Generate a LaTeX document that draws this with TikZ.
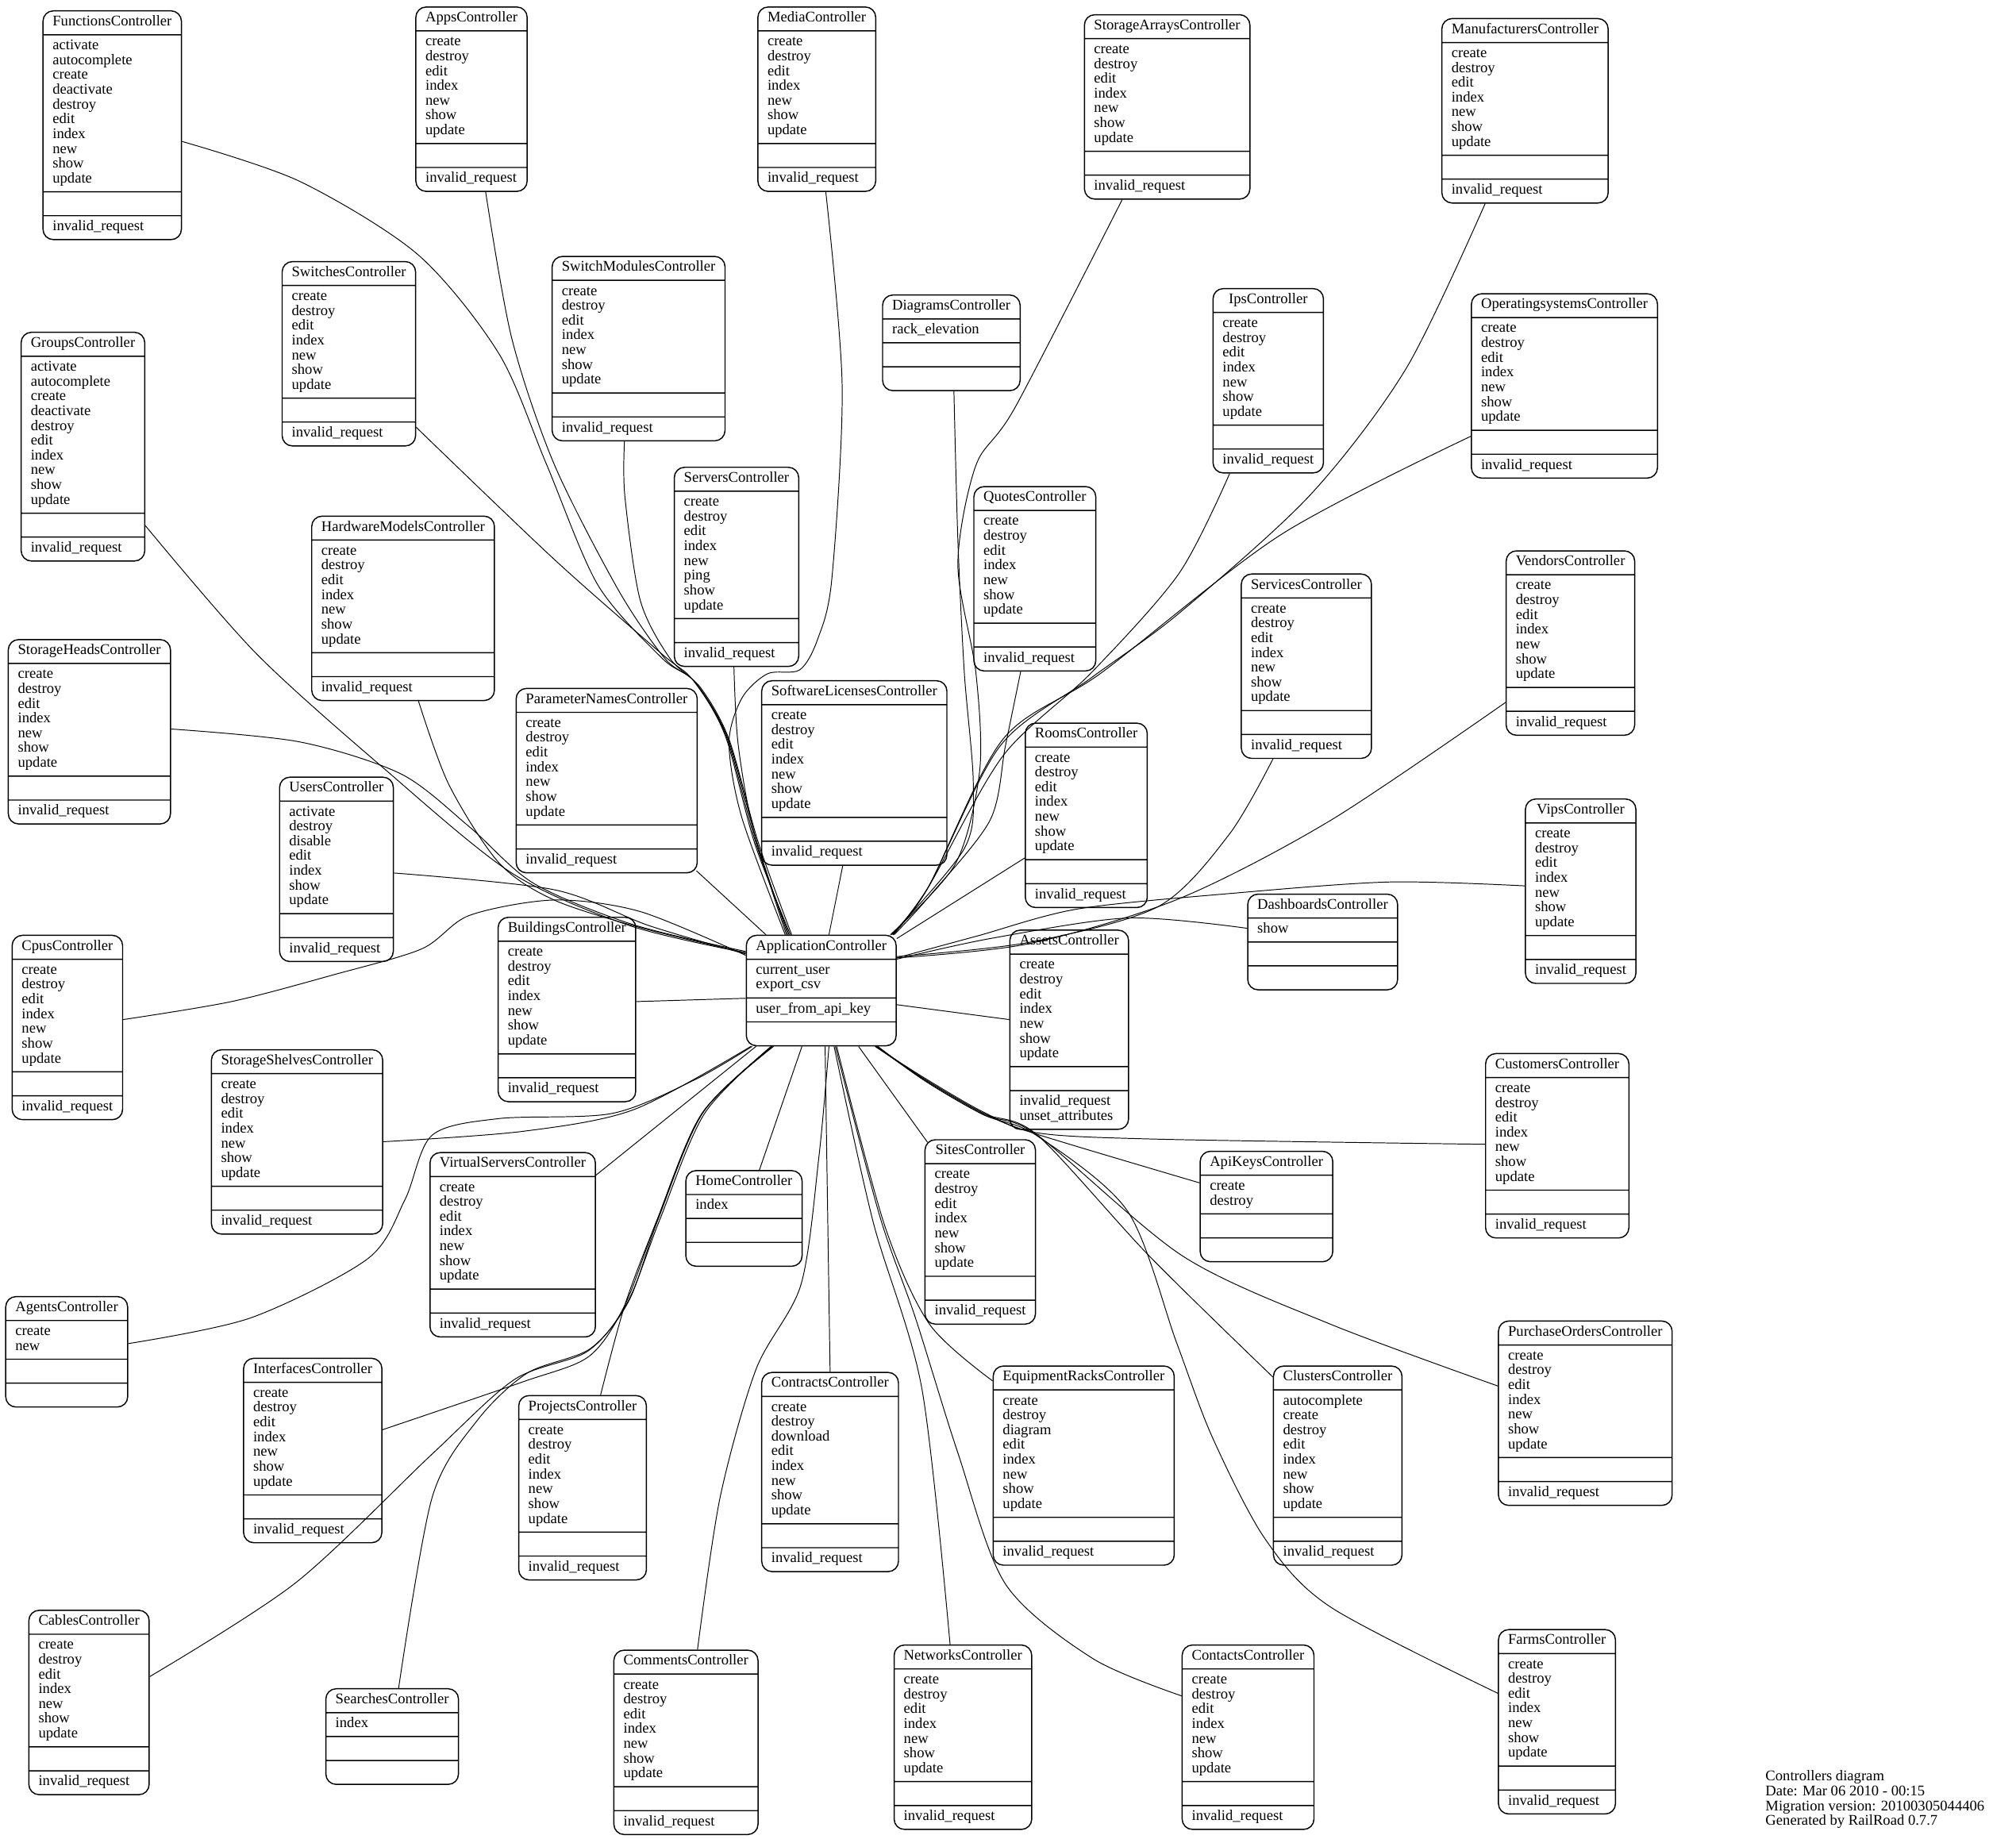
\documentclass[tikz,border=0pt]{standalone}
\usepackage{fontspec}
\setmainfont{Liberation Serif}
\usetikzlibrary{shapes.multipart}
\newcommand{\mlist}[1]{\begin{tabular}{@{}l@{}}#1\end{tabular}}
\newcommand{\crud}{\mlist{create\\destroy\\edit\\index\\new\\show\\update}}
\newcommand{\invreq}{\strut invalid\_request}
\tikzstyle{ctrl} = [rectangle split, rectangle split parts=4, draw, rounded corners=8pt, anchor=north west, inner xsep=7.5pt, inner ysep=3.1pt, rectangle split part align={center,left,left,left}, font=\fontsize{11.5}{11.5}\selectfont, line width=0.9pt]
\tikzstyle{line} = [draw, line width=0.6pt]
\begin{document}
\begin{tikzpicture}[x=1pt, y=-1pt]
    \useasboundingbox (0,0) rectangle (1568,1430);
    % controllers
    \node[ctrl] (func) at (33,8) {\strut FunctionsController \nodepart{two} \mlist{activate\\autocomplete\\create\\deactivate\\destroy\\edit\\index\\new\\show\\update} \nodepart{three} \strut \nodepart{four} \invreq};
    \node[ctrl] (apps) at (323,5) {\strut AppsController \nodepart{two} \crud \nodepart{three} \strut \nodepart{four} \invreq};
    \node[ctrl] (media) at (589,5) {\strut MediaController \nodepart{two} \crud \nodepart{three} \strut \nodepart{four} \invreq};
    \node[ctrl] (starr) at (843,11) {\strut StorageArraysController \nodepart{two} \crud \nodepart{three} \strut \nodepart{four} \invreq};
    \node[ctrl] (manuf) at (1121,14) {\strut ManufacturersController \nodepart{two} \crud \nodepart{three} \strut \nodepart{four} \invreq};
    \node[ctrl] (switches) at (219,203) {\strut SwitchesController \nodepart{two} \crud \nodepart{three} \strut \nodepart{four} \invreq};
    \node[ctrl] (swmod) at (429,199) {\strut SwitchModulesController \nodepart{two} \crud \nodepart{three} \strut \nodepart{four} \invreq};
    \node[ctrl] (diagrams) at (686,229) {\strut DiagramsController \nodepart{two} \strut rack\_elevation \nodepart{three} \strut \nodepart{four} \strut};
    \node[ctrl] (ips) at (943,224) {\strut IpsController \nodepart{two} \crud \nodepart{three} \strut \nodepart{four} \invreq};
    \node[ctrl] (opsys) at (1144,228) {\strut OperatingsystemsController \nodepart{two} \crud \nodepart{three} \strut \nodepart{four} \invreq};
    \node[ctrl] (groups) at (16,258) {\strut GroupsController \nodepart{two} \mlist{activate\\autocomplete\\create\\deactivate\\destroy\\edit\\index\\new\\show\\update} \nodepart{three} \strut \nodepart{four} \invreq};
    \node[ctrl] (servers) at (524,363) {\strut ServersController \nodepart{two} \mlist{create\\destroy\\edit\\index\\new\\ping\\show\\update} \nodepart{three} \strut \nodepart{four} \invreq};
    \node[ctrl] (quotes) at (757,378) {\strut QuotesController \nodepart{two} \crud \nodepart{three} \strut \nodepart{four} \invreq};
    \node[ctrl] (hwmod) at (242,401) {\strut HardwareModelsController \nodepart{two} \crud \nodepart{three} \strut \nodepart{four} \invreq};
    \node[ctrl] (services) at (965,446) {\strut ServicesController \nodepart{two} \crud \nodepart{three} \strut \nodepart{four} \invreq};
    \node[ctrl] (vendors) at (1171,428) {\strut VendorsController \nodepart{two} \crud \nodepart{three} \strut \nodepart{four} \invreq};
    \node[ctrl] (sthead) at (6,497) {\strut StorageHeadsController \nodepart{two} \crud \nodepart{three} \strut \nodepart{four} \invreq};
    \node[ctrl] (params) at (401,535) {\strut ParameterNamesController \nodepart{two} \crud \nodepart{three} \strut \nodepart{four} \invreq};
    \node[ctrl] (swlic) at (592,529) {\strut SoftwareLicensesController \nodepart{two} \crud \nodepart{three} \strut \nodepart{four} \invreq};
    \node[ctrl] (rooms) at (797,562) {\strut RoomsController \nodepart{two} \crud \nodepart{three} \strut \nodepart{four} \invreq};
    \node[ctrl] (users) at (217,604) {\strut UsersController \nodepart{two} \mlist{activate\\destroy\\disable\\edit\\index\\show\\update} \nodepart{three} \strut \nodepart{four} \invreq};
    \node[ctrl] (vips) at (1186,621) {\strut VipsController \nodepart{two} \crud \nodepart{three} \strut \nodepart{four} \invreq};
    \node[ctrl] (dash) at (970,695) {\strut DashboardsController \nodepart{two} \strut show \nodepart{three} \strut \nodepart{four} \strut};
    \node[ctrl] (app) at (580,727) {\strut ApplicationController \nodepart{two} \mlist{current\_user\\export\_csv} \nodepart{three} \strut user\_from\_api\_key \nodepart{four} \strut};
    \node[ctrl] (cpus) at (9,727) {\strut CpusController \nodepart{two} \crud \nodepart{three} \strut \nodepart{four} \invreq};
    \node[ctrl] (build) at (387,713) {\strut BuildingsController \nodepart{two} \crud \nodepart{three} \strut \nodepart{four} \invreq};
    \node[ctrl] (assets) at (785,723) {\strut AssetsController \nodepart{two} \crud \nodepart{three} \strut \nodepart{four} \mlist{invalid\_request\\unset\_attributes}};
    \node[ctrl] (stshelf) at (164,816) {\strut StorageShelvesController \nodepart{two} \crud \nodepart{three} \strut \nodepart{four} \invreq};
    \node[ctrl] (cust) at (1155,819) {\strut CustomersController \nodepart{two} \crud \nodepart{three} \strut \nodepart{four} \invreq};
    \node[ctrl] (sites) at (719,886) {\strut SitesController \nodepart{two} \crud \nodepart{three} \strut \nodepart{four} \invreq};
    \node[ctrl] (apikeys) at (933,895) {\strut ApiKeysController \nodepart{two} \mlist{create\\destroy} \nodepart{three} \strut \nodepart{four} \strut};
    \node[ctrl] (home) at (533,910) {\strut HomeController \nodepart{two} \strut index \nodepart{three} \strut \nodepart{four} \strut};
    \node[ctrl] (vservers) at (334,896) {\strut VirtualServersController \nodepart{two} \crud \nodepart{three} \strut \nodepart{four} \invreq};
    \node[ctrl] (agents) at (4,1008) {\strut AgentsController \nodepart{two} \mlist{create\\new} \nodepart{three} \strut \nodepart{four} \strut};
    \node[ctrl] (ifaces) at (189,1056) {\strut InterfacesController \nodepart{two} \crud \nodepart{three} \strut \nodepart{four} \invreq};
    \node[ctrl] (projects) at (403,1085) {\strut ProjectsController \nodepart{two} \crud \nodepart{three} \strut \nodepart{four} \invreq};
    \node[ctrl] (contracts) at (592,1067) {\strut ContractsController \nodepart{two} \mlist{create\\destroy\\download\\edit\\index\\new\\show\\update} \nodepart{three} \strut \nodepart{four} \invreq};
    \node[ctrl] (eqracks) at (772,1062) {\strut EquipmentRacksController \nodepart{two} \mlist{create\\destroy\\diagram\\edit\\index\\new\\show\\update} \nodepart{three} \strut \nodepart{four} \invreq};
    \node[ctrl] (clusters) at (990,1062) {\strut ClustersController \nodepart{two} \mlist{autocomplete\\create\\destroy\\edit\\index\\new\\show\\update} \nodepart{three} \strut \nodepart{four} \invreq};
    \node[ctrl] (porders) at (1165,1027) {\strut PurchaseOrdersController \nodepart{two} \crud \nodepart{three} \strut \nodepart{four} \invreq};
    \node[ctrl] (cables) at (22,1252) {\strut CablesController \nodepart{two} \crud \nodepart{three} \strut \nodepart{four} \invreq};
    \node[ctrl] (searches) at (253,1313) {\strut SearchesController \nodepart{two} \strut index \nodepart{three} \strut \nodepart{four} \strut};
    \node[ctrl] (comments) at (477,1283) {\strut CommentsController \nodepart{two} \crud \nodepart{three} \strut \nodepart{four} \invreq};
    \node[ctrl] (networks) at (695,1279) {\strut NetworksController \nodepart{two} \crud \nodepart{three} \strut \nodepart{four} \invreq};
    \node[ctrl] (contacts) at (919,1279) {\strut ContactsController \nodepart{two} \crud \nodepart{three} \strut \nodepart{four} \invreq};
    \node[ctrl] (farms) at (1165,1267) {\strut FarmsController \nodepart{two} \crud \nodepart{three} \strut \nodepart{four} \invreq};
    % legend
    \node[anchor=north west, align=left, inner sep=0pt, font=\fontsize{11.5}{11.5}\selectfont] (legend) at (1373,1377) {Controllers diagram\\Date: Mar 06 2010 - 00:15\\Migration version: 20100305044406\\Generated by RailRoad 0.7.7};

    % upper left
    \path[line] plot[smooth] coordinates {([yshift=-102pt]func.north east) (233,141) (325,198) (388,275) (425,361) (465,455) (515,512) (540,530) (565,573) (588,656) ([xshift=-25pt]app.north)};
    \path[line] plot[smooth] coordinates {([xshift=11pt]apps.south) (398,263) (431,361) (481,459) (517,512) (541,531) (566,574) (589,656) ([xshift=-26pt]app.north)};
    \path[line] plot[smooth] coordinates {([yshift=15pt]switches.south east) (431,435) (514,508) (539,529) (564,572) (587,656) ([xshift=-24pt]app.north)};
    \path[line] plot[smooth] coordinates {([xshift=-11pt]swmod.south) (486,386) (498,467) (521,512) (545,535) (567,575) (590,656) ([xshift=-23pt]app.north)};
    \path[line] plot[smooth] coordinates {([xshift=-2pt]servers.south) (574,578) (586,646) ([xshift=-27pt]app.north)};
    \path[line] plot[smooth] coordinates {([xshift=7pt]media.south) (655,300) (647,450) (636,497) (622,521) (597,524) (577,543) (567,578) (577,636) ([xshift=-28pt]app.north)};
    \path[line] ([xshift=-1pt,yshift=2pt]params.south east) -- ([xshift=-43pt]app.north);
    \path[line] ([xshift=-9pt]swlic.south) -- ([xshift=6pt]app.north);
    % upper right
    \path[line] plot[smooth] coordinates {([xshift=-35pt]starr.south) (790,316) (759,362) (745,439) (759,523) (762,599) (743,672) ([xshift=-5pt]app.north east)};
    \path[line] plot[smooth] coordinates {([xshift=2pt]diagrams.south) (745,420) (750,523) (757,610) (750,660) ([xshift=-4pt]app.north east)};
    \path[line] plot[smooth] coordinates {([xshift=-31pt]manuf.south) (1094,286) (1019,385) (917,477) (849,527) (778,580) (722,690) ([xshift=-4pt]app.north east)};
    \path[line] plot[smooth] coordinates {([xshift=-30pt]ips.south) (917,446) (849,523) (780,588) (722,690) ([xshift=-3pt]app.north east)};
    \path[line] plot[smooth] coordinates {([yshift=33pt]opsys.south west) (996,416) (857,523) (780,575) (722,690) ([xshift=-3pt]app.north east)};
    \path[line] plot[smooth] coordinates {([xshift=-11pt]quotes.south) (782,580) (770,638) (722,698) ([xshift=-2pt]app.north east)};
    \path[line] ([yshift=39pt]rooms.south west) -- ([yshift=-3pt]app.north east);
    \path[line] plot[smooth] coordinates {([xshift=-26pt]services.south) (956,649) (901,705) (800,733) ([yshift=-17pt]app.north east)};
    \path[line] plot[smooth] coordinates {([yshift=26pt]vendors.south west) (1035,638) (917,699) (800,734) ([yshift=-18pt]app.north east)};
    \path[line] plot[smooth] coordinates {([yshift=-68pt]vips.north west) (1080,686) (956,695) (838,707) (760,728) ([yshift=-18pt]app.north east)};
    \path[line] plot[smooth] coordinates {([yshift=-27pt]dash.north west) (877,714) (770,730) ([yshift=-19pt]app.north east)};
    % left
    \path[line] plot[smooth] coordinates {([yshift=28pt]groups.south east) (199,508) (299,598) (398,679) (490,720) ([yshift=-14pt]app.north west)};
    \path[line] plot[smooth] coordinates {([yshift=-70pt]sthead.north east) (233,577) (312,602) (365,643) (415,687) (492,719) ([yshift=-13pt]app.north west)};
    \path[line] plot[smooth] coordinates {([xshift=12pt]hwmod.south) (349,610) (388,671) (431,700) (500,722) ([yshift=-14pt]app.north west)};
    \path[line] plot[smooth] coordinates {([yshift=-75pt]users.north east) (431,692) (505,720) ([yshift=-15pt]app.north west)};
    \path[line] plot[smooth] coordinates {([yshift=-66pt]cpus.north east) (180,779) (260,758) (328,738) (365,712) (431,700) (498,709) ([yshift=-16pt]app.north west)};
    \path[line] ([yshift=-66pt]build.north east) -- ([yshift=-6pt]app.west);
    \path[line] ([yshift=-70pt]assets.north west) -- ([yshift=-11pt]app.east);
    % lower left
    \path[line] plot[smooth] coordinates {([yshift=-72pt]stshelf.north east) (406,880) (493,863) ([xshift=4pt]app.south west)};
    \path[line] plot[smooth] coordinates {([yshift=-37pt]agents.north east) (195,1025) (286,979) (315,933) (336,883) (388,870) (476,866) (540,840) ([xshift=5pt]app.south west)};
    \path[line] ([yshift=-18pt]vservers.north east) -- ([xshift=8pt]app.south west);
    \path[line] plot[smooth] coordinates {([yshift=-56pt]ifaces.north east) (406,1075) (458,1055) (486,1015) (511,949) (546,866) ([xshift=-38pt]app.south)};
    \path[line] plot[smooth] coordinates {([yshift=-52pt]cables.north east) (230,1231) (336,1131) (400,1073) (457,1051) (488,1013) (513,949) (548,866) ([xshift=-39pt]app.south)};
    \path[line] plot[smooth] coordinates {([xshift=5pt]searches.north) (336,1165) (371,1105) (410,1068) (459,1049) (489,1012) (512,948) (547,865) ([xshift=-37pt]app.south)};
    \path[line] plot[smooth] coordinates {([xshift=14pt]projects.north) (486,1015) (511,949) (546,866) ([xshift=-38pt]app.south)};
    \path[line] ([xshift=12pt]home.north) -- ([xshift=-15pt]app.south);
    % lower middle
    \path[line] (contracts.north) -- ([xshift=3pt]app.south);
    \path[line] plot[smooth] coordinates {([xshift=9pt]comments.north) (560,1165) (588,1065) (623,999) (637,899) ([xshift=6pt]app.south)};
    \path[line] plot[smooth] coordinates {([xshift=-10pt]networks.north) (717,1080) (679,950) ([xshift=10pt]app.south)};
    \path[line] plot[smooth] coordinates {([yshift=-40pt]contacts.north west) (850,1290) (782,1232) (745,1130) (712,1025) (684,945) ([xshift=11pt]app.south)};
    \path[line] plot[smooth] coordinates {([yshift=-12pt]eqracks.north west) (723,1030) (688,953) ([xshift=12pt]app.south)};
    \path[line] ([xshift=2.3pt,yshift=-2.3pt]sites.north west) -- ([xshift=29pt]app.south);
    % lower right
    \path[line] plot[smooth] coordinates {([yshift=-71pt]cust.north west) (900,886) (806,881) (765,865) (720,839) ([xshift=42pt]app.south)};
    \path[line] plot[smooth] coordinates {([yshift=-25pt]apikeys.north west) (806,882) (765,866) (720,840) ([xshift=42pt]app.south)};
    \path[line] plot[smooth] coordinates {([yshift=-9pt]clusters.north west) (894,977) (807,883) (765,866) (720,840) ([xshift=43pt]app.south)};
    \path[line] plot[smooth] coordinates {([yshift=-51pt]porders.north west) (1035,1030) (920,977) (807,883) (765,867) (720,841) ([xshift=43pt]app.south)};
    \path[line] plot[smooth] coordinates {([yshift=-50pt]farms.north west) (1035,1250) (984,1197) (943,1118) (915,1044) (877,942) (806,883) (765,867) (720,841) ([xshift=44pt]app.south)};
\end{tikzpicture}
\end{document}
